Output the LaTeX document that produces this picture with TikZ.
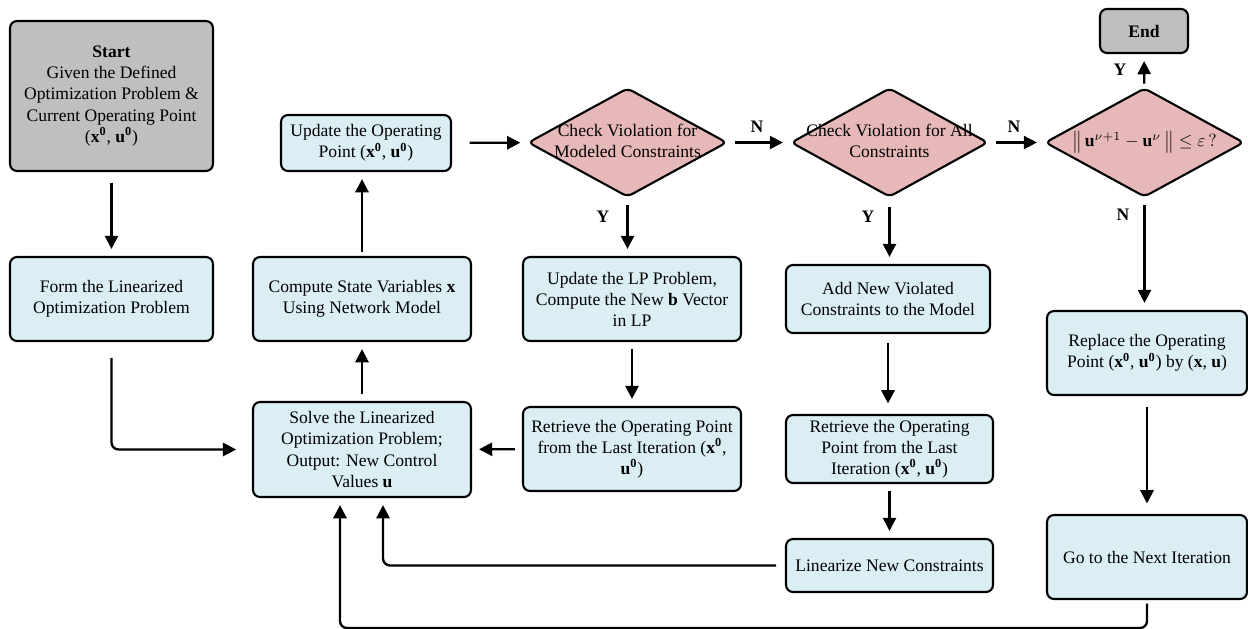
\documentclass[tikz,border=0pt]{standalone}
\usepackage{fontspec}
\setmainfont{Liberation Serif}
\usepackage{amsmath}
\usetikzlibrary{arrows.meta, shapes.geometric}

\definecolor{boxblue}{RGB}{219,238,244}
\definecolor{chkpink}{RGB}{230,185,184}
\definecolor{termgray}{RGB}{191,191,191}

\newcommand{\opt}{(\textbf{x}\textsuperscript{\textbf{0}}, \textbf{u}\textsuperscript{\textbf{0}})}
\newcommand{\dtxt}[1]{\makebox[0pt]{\begin{tabular}{@{}c@{}}#1\end{tabular}}}

\begin{document}
\begin{tikzpicture}[
    x=0.02cm, y=-0.02cm,
    block/.style={rectangle, rounded corners=4pt, draw, line width=1.2pt, fill=boxblue, align=center, inner sep=2pt},
    term/.style={block, fill=termgray},
    check/.style={diamond, aspect=1.82, draw, line width=1.2pt, fill=chkpink, rounded corners=3pt, inner sep=0pt, minimum width=3.98cm, minimum height=2.18cm},
    lab/.style={font=\bfseries},
    arr/.style={-{Triangle[length=7.5pt, width=7.5pt]}, line width=1.3pt, shorten >=4pt, shorten <=4pt}
]
    \useasboundingbox (0,0) rectangle (1248,629);

    % left column
    \node[term, minimum width=4.06cm, minimum height=3cm] (start) at (111.5,96)
        {\textbf{Start}\\Given the Defined\\Optimization Problem \&\\Current Operating Point\\\opt};
    \node[block, minimum width=4.06cm, minimum height=1.68cm] (form) at (111.5,299)
        {Form the Linearized\\Optimization Problem};

    % solve / update column
    \node[block, minimum width=3.4cm, minimum height=1.12cm] (update) at (366,143)
        {Update the Operating\\Point \opt};
    \node[block, minimum width=4.36cm, minimum height=1.68cm] (compute) at (362,299)
        {Compute State Variables \textbf{x}\\Using Network Model};
    \node[block, minimum width=4.36cm, minimum height=1.9cm] (solve) at (362,449.5)
        {Solve the Linearized\\Optimization Problem;\\Output: New Control\\Values \textbf{u}};

    % modeled constraints
    \node[check] (chk1) at (627.5,142.5) {\dtxt{Check Violation for\\Modeled Constraints}};
    \node[block, minimum width=4.36cm, minimum height=1.68cm] (updlp) at (632,299)
        {Update the LP Problem,\\Compute the New \textbf{b} Vector\\in LP};
    \node[block, minimum width=4.36cm, minimum height=1.68cm] (ret1) at (632,449)
        {Retrieve the Operating Point\\from the Last Iteration (\textbf{x}\textsuperscript{\textbf{0}},\\\textbf{u}\textsuperscript{\textbf{0}})};

    % all constraints
    \node[check, minimum width=3.94cm] (chk2) at (889.5,142.5) {\dtxt{Check Violation for All\\Constraints}};
    \node[block, minimum width=4.08cm, minimum height=1.36cm] (add) at (888,299)
        {Add New Violated\\Constraints to the Model};
    \node[block, minimum width=4.14cm, minimum height=1.36cm] (ret2) at (889.5,449)
        {Retrieve the Operating\\Point from the Last\\Iteration \opt};
    \node[block, minimum width=4.14cm, minimum height=1.06cm] (lin) at (889.5,565.5)
        {Linearize New Constraints};

    % convergence
    \node[check] (chk3) at (1144.5,142.5)
        {$\bigl\|\,\mathbf{u}^{\nu+1}-\mathbf{u}^{\nu}\,\bigr\|\le\varepsilon\,?$};
    \node[term, minimum width=1.76cm, minimum height=0.88cm] (endn) at (1144,31) {\textbf{End}};
    \node[block, minimum width=4cm, minimum height=1.68cm] (repl) at (1147,353)
        {Replace the Operating\\Point \opt{} by (\textbf{x}, \textbf{u})};
    \node[block, minimum width=4cm, minimum height=1.68cm] (gonext) at (1147,557)
        {Go to the Next Iteration};

    % labels
    \node[lab] (n1) at (757,127) {N};
    \node[lab] (y1) at (603,217) {Y};
    \node[lab] (n2) at (1014,127) {N};
    \node[lab] (y2) at (868,217) {Y};
    \node[lab] (y3) at (1120,70) {Y};
    \node[lab] (n3) at (1123,215) {N};

    % main arrows
    \draw[arr, shorten <=6pt] (start) -- (form);
    \draw[arr] (solve) -- (compute);
    \draw[arr, shorten <=2pt] (compute.north) -- (compute.north |- update.south);
    \draw[arr, shorten <=10pt] (update) -- (chk1);
    \draw[arr] (chk1) -- (chk2);
    \draw[arr] (chk2) -- (chk3);
    \draw[arr, shorten <=2pt] (chk3) -- (endn);
    \draw[arr] (chk1.south) -- (chk1.south |- updlp.north);
    \draw[arr] (updlp) -- (ret1);
    \draw[arr] (ret1) -- (solve);
    \draw[arr, shorten <=5pt] (chk2.south) -- (chk2.south |- add.north);
    \draw[arr, shorten <=5pt, shorten >=6pt] (add.south) -- (add.south |- ret2.north);
    \draw[arr] (ret2) -- (lin);
    \draw[arr] (chk3.south) -- (chk3.south |- repl.north);
    \draw[arr, shorten <=6pt, shorten >=6pt] (repl) -- (gonext);

    % feedback arrows
    \draw[arr, rounded corners=4pt, shorten <=9pt, shorten >=9pt] (form.south) |- (solve.west);
    \draw[arr, rounded corners=4pt, shorten <=5pt] (lin.west) -| ([xshift=0.42cm]solve.south);
    \draw[arr, rounded corners=4pt, shorten <=2pt] (gonext.south) -- ++(0,28) -| ([xshift=-0.44cm]solve.south);
\end{tikzpicture}
\end{document}
